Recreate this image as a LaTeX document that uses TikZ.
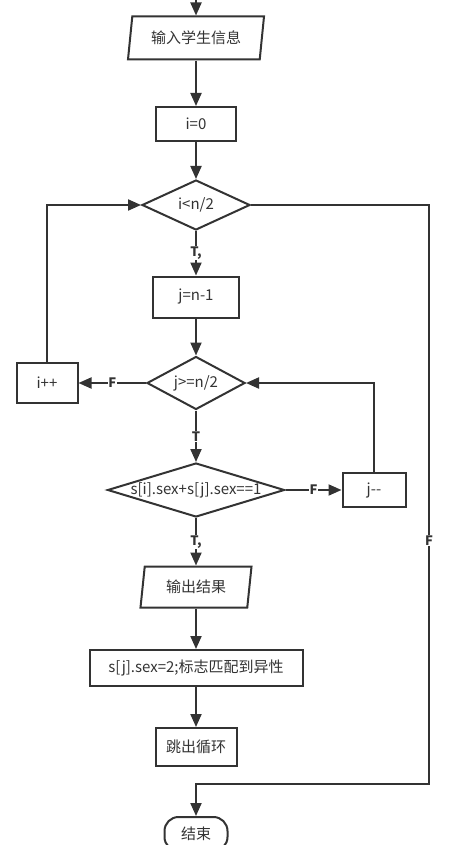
\documentclass[tikz,border=0pt]{standalone}
\usepackage{fontspec}
\setmainfont{Noto Sans CJK SC}
\usetikzlibrary{shapes.geometric,arrows.meta}
\definecolor{ink}{HTML}{333333}

\begin{document}
\begin{tikzpicture}[x=1pt,y=-1pt,
  every node/.style={font=\fontsize{15}{17}\selectfont, text=ink},
  proc/.style={draw=ink, line width=2pt, rectangle, inner sep=0pt},
  io/.style={draw=ink, line width=2pt, trapezium, trapezium left angle=73, trapezium right angle=107, trapezium stretches body, inner sep=0pt},
  decide/.style={draw=ink, line width=2pt, diamond, inner sep=0pt},
  term/.style={draw=ink, line width=2pt, rounded corners=14pt, inner sep=0pt},
  flow/.style={draw=ink, line width=2pt, -{Triangle[length=13pt,width=11pt]}},
  tag/.style={fill=white, inner sep=0.8pt, font=\fontsize{13}{15}\selectfont\bfseries}]
\useasboundingbox (0,0) rectangle (470,845);
\coordinate (top) at (196,0);
\coordinate (back) at (429,784);
\node[io, minimum width=136, minimum height=43] (input) at (196,38) {输入学生信息};
\node[proc, minimum width=80, minimum height=34] (init) at (196,124) {i=0};
\node[decide, minimum width=108, minimum height=50] (outer) at (196,205) {\makebox[0pt]{i<n/2}};
\node[proc, minimum width=86, minimum height=41] (setj) at (196,297) {j=n-1};
\node[decide, minimum width=98, minimum height=53] (inner) at (196,383) {\makebox[0pt]{j>=n/2}};
\node[proc, minimum width=61, minimum height=40] (inci) at (47,383) {i++};
\node[decide, minimum width=177, minimum height=54] (match) at (196,490) {\makebox[0pt]{s[i].sex+s[j].sex==1}};
\node[proc, minimum width=63, minimum height=34] (decj) at (374,490) {j-{}-};
\node[io, minimum width=111, minimum height=41] (output) at (196,587) {输出结果};
\node[proc, minimum width=213, minimum height=36] (mark) at (196,668) {s[j].sex=2;标志匹配到异性};
\node[proc, minimum width=81, minimum height=38] (brk) at (196,747) {跳出循环};
\node[term, minimum width=63, minimum height=34] (stop) at (196,834) {结束};
\draw[flow] (top) -- (input);
\draw[flow] (input) -- (init);
\draw[flow] (init) -- (outer);
\draw[flow] (outer) -- node[tag]{T,} (setj);
\draw[flow] (setj) -- (inner);
\draw[flow] (inner) -- node[tag]{T} (match);
\draw[flow] (match) -- node[tag]{T,} (output);
\draw[flow] (output) -- (mark);
\draw[flow] (mark) -- (brk);
\draw[flow] (inner) -- node[tag]{F} (inci);
\draw[flow] (inci) |- (outer);
\draw[flow] (match) -- node[tag]{F} (decj);
\draw[flow] (decj) |- (inner);
\draw[flow] (outer) -| node[tag,pos=0.79]{F} (back) -| (stop);
\end{tikzpicture}
\end{document}
